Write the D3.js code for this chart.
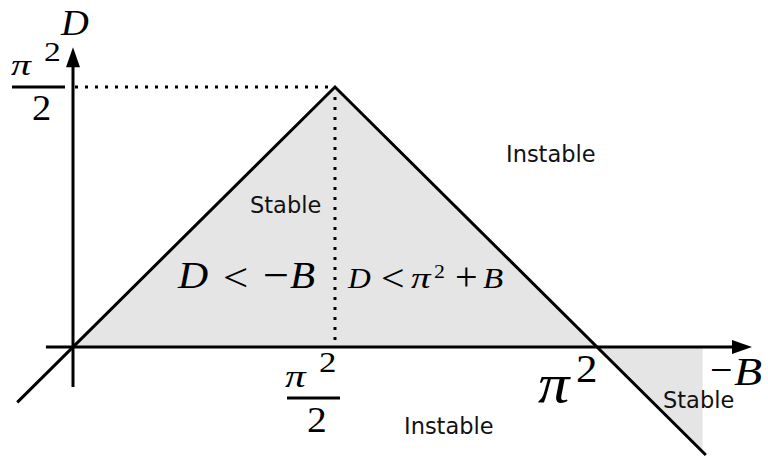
<!DOCTYPE html>
<html>
<head>
<meta charset="utf-8">
<script src="https://cdn.jsdelivr.net/npm/d3@7"></script>
<style>
  html, body { margin: 0; padding: 0; background: #fff; }
  svg { display: block; }
  .math { font-family: "Liberation Serif", "DejaVu Serif", serif; font-style: italic; }
  .num { font-family: "Liberation Serif", "DejaVu Serif", serif; font-style: normal; }
  .word { font-family: "DejaVu Sans", sans-serif; }
</style>
</head>
<body>
<svg id="chart" width="768" height="460"></svg>
<script>
// Stability diagram in the (-B, D) plane.
const PI2 = 9.87;          // π²
const HALF = 4.935;        // π² / 2

// Boundary: D = -B up to the apex, then D = π² + B beyond it
const boundary = [
  { b: -1.05, d: -1.05 },
  { b: HALF, d: HALF },
  { b: 11.92, d: -2.05 }
];
// Stable region between the two boundaries and above D = 0
const stableMain = [
  { b: 0, d: 0 },
  { b: HALF, d: HALF },
  { b: PI2, d: 0 }
];
// Stable region past π², below D = 0 and above the boundary
const stableRight = [
  { b: PI2, d: 0 },
  { b: 11.86, d: 0 },
  { b: 11.86, d: -1.99 }
];
// Axis extents
const xAxisRange = [-0.51, 12.79];
const yAxisRange = [-0.76, 5.69];

const svg = d3.select("#chart");
const x = d3.scaleLinear().domain([0, PI2]).range([73, 597]);
const y = d3.scaleLinear().domain([0, HALF]).range([347, 87]);

const line = d3.line().x(p => x(p.b)).y(p => y(p.d));

// Shaded regions
svg.append("path").attr("d", line(stableMain) + "Z").attr("fill", "#e5e5e5");
svg.append("path").attr("d", line(stableRight) + "Z").attr("fill", "#e5e5e5");

// Dotted guides to the apex
svg.append("line")
  .attr("x1", x(0) + 2).attr("y1", y(HALF))
  .attr("x2", x(HALF)).attr("y2", y(HALF))
  .attr("stroke", "#000").attr("stroke-width", 3).attr("stroke-dasharray", "3,7");
svg.append("line")
  .attr("x1", x(HALF)).attr("y1", y(HALF) + 10)
  .attr("x2", x(HALF)).attr("y2", y(0))
  .attr("stroke", "#000").attr("stroke-width", 3).attr("stroke-dasharray", "3,7");

// Axes with arrowheads
const ax = svg.append("g").attr("stroke", "#000").attr("stroke-width", 3);
ax.append("line")
  .attr("x1", x(xAxisRange[0])).attr("y1", y(0))
  .attr("x2", x(xAxisRange[1]) - 10).attr("y2", y(0));
ax.append("line")
  .attr("x1", x(0)).attr("y1", y(yAxisRange[0]))
  .attr("x2", x(0)).attr("y2", y(yAxisRange[1]) + 10);

const tipX = x(xAxisRange[1]), tipY = y(yAxisRange[1]);
svg.append("path")
  .attr("d", `M${tipX},${y(0)} L${tipX - 20},${y(0) - 7} L${tipX - 20},${y(0) + 7} Z`)
  .attr("fill", "#000");
svg.append("path")
  .attr("d", `M${x(0)},${tipY} L${x(0) - 7},${tipY + 20} L${x(0) + 7},${tipY + 20} Z`)
  .attr("fill", "#000");

// Boundary line
svg.append("path").attr("d", line(boundary))
  .attr("fill", "none").attr("stroke", "#000").attr("stroke-width", 3)
  .attr("stroke-linejoin", "miter");

// Math glyphs: each placed on its own baseline, optionally widened
function glyphs(list) {
  const g = svg.append("g");
  g.selectAll("text").data(list).join("text")
    .attr("class", d => d.cls)
    .attr("transform", d => `translate(${d.x},${d.y}) scale(${d.sx || 1},1)`)
    .attr("font-size", d => d.size)
    .text(d => d.t);
  return g;
}
function bar(x1, x2, yy) {
  svg.append("line").attr("x1", x1).attr("x2", x2).attr("y1", yy).attr("y2", yy)
    .attr("stroke", "#000").attr("stroke-width", 3);
}

// π²/2 on the D axis
glyphs([
  { t: "π", cls: "math", x: 11, y: 75, size: 30, sx: 1.33 },
  { t: "2", cls: "num", x: 44, y: 61, size: 28, sx: 1.2 },
  { t: "2", cls: "num", x: 32, y: 120, size: 35, sx: 1.1 }
]);
bar(12, 65, y(HALF));

// π²/2 on the -B axis
glyphs([
  { t: "π", cls: "math", x: 285, y: 387, size: 31, sx: 1.33 },
  { t: "2", cls: "num", x: 319, y: 372, size: 29, sx: 1.2 },
  { t: "2", cls: "num", x: 307, y: 432, size: 36, sx: 1.1 }
]);
bar(287, 340, 398);

// π² on the -B axis
glyphs([
  { t: "π", cls: "math", x: 538, y: 402, size: 56, sx: 1.12 },
  { t: "2", cls: "num", x: 576, y: 382, size: 39, sx: 1.1 }
]);

// Axis titles
glyphs([
  { t: "D", cls: "math", x: 61, y: 35, size: 35, sx: 1.1 },
  { t: "−", cls: "num", x: 710, y: 383, size: 40, sx: 1 },
  { t: "B", cls: "math", x: 734, y: 385, size: 40, sx: 1.15 }
]);

// Inequalities
glyphs([
  { t: "D", cls: "math", x: 178, y: 288, size: 38, sx: 1.1 },
  { t: "<", cls: "num", x: 223, y: 291, size: 40, sx: 1.12 },
  { t: "−", cls: "num", x: 263, y: 290, size: 44, sx: 1.05 },
  { t: "B", cls: "math", x: 290, y: 288, size: 38, sx: 1.08 }
]);
glyphs([
  { t: "D", cls: "math", x: 348, y: 288, size: 30, sx: 1.05 },
  { t: "<", cls: "num", x: 381, y: 291, size: 38, sx: 1.1 },
  { t: "π", cls: "math", x: 411, y: 288, size: 30, sx: 1.3 },
  { t: "2", cls: "num", x: 434, y: 278, size: 19, sx: 1.15 },
  { t: "+", cls: "num", x: 455, y: 290, size: 40, sx: 1 },
  { t: "B", cls: "math", x: 483, y: 288, size: 30, sx: 1.1 }
]);

// Region words
const words = [
  { t: "Stable", x: 250, y: 213 },
  { t: "Instable", x: 506, y: 162 },
  { t: "Instable", x: 404, y: 434 },
  { t: "Stable", x: 663, y: 408 }
];
svg.append("g").selectAll("text").data(words).join("text")
  .attr("class", "word").attr("x", d => d.x).attr("y", d => d.y)
  .attr("font-size", 22.5).attr("fill", "#111").text(d => d.t);
</script>
</body>
</html>
